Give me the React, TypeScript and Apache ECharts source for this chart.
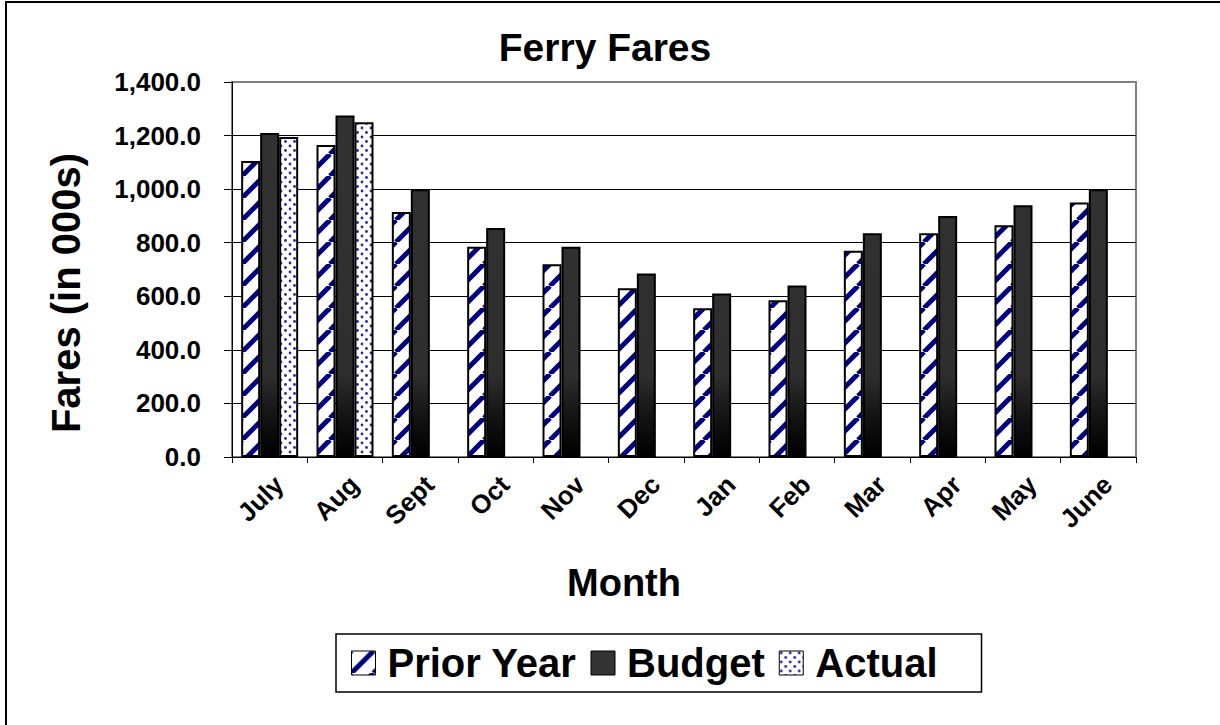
import React, { useEffect, useRef } from "react";
import * as echarts from "echarts";

const months = ["July", "Aug", "Sept", "Oct", "Nov", "Dec", "Jan", "Feb", "Mar", "Apr", "May", "June"];
const priorYear = [1105, 1165, 915, 785, 720, 630, 555, 585, 770, 835, 865, 950];
const budget = [1210, 1275, 1000, 855, 785, 685, 610, 640, 835, 900, 940, 1000];
const actual: (number | null)[] = [1195, 1250, null, null, null, null, null, null, null, null, null, null];
const yMin = 0;
const yMax = 1400;
const yInterval = 200;

const FONT = "'Liberation Sans', Arial, Helvetica, sans-serif";

function makeStripeCanvas(): HTMLCanvasElement {
  const s = 22;
  const c = document.createElement("canvas");
  c.width = s;
  c.height = s;
  const ctx = c.getContext("2d")!;
  ctx.fillStyle = "#ffffff";
  ctx.fillRect(0, 0, s, s);
  ctx.strokeStyle = "#000080";
  ctx.lineWidth = 5;
  for (let k = -1; k <= 1; k++) {
    ctx.beginPath();
    ctx.moveTo(k * s, s);
    ctx.lineTo(k * s + s, 0);
    ctx.stroke();
  }
  return c;
}

function makeDotCanvas(): HTMLCanvasElement {
  const s = 9;
  const c = document.createElement("canvas");
  c.width = s;
  c.height = s;
  const ctx = c.getContext("2d")!;
  ctx.fillStyle = "#ffffff";
  ctx.fillRect(0, 0, s, s);
  ctx.fillStyle = "#2a2a9a";
  const dots = [
    [2, 2],
    [6.5, 6.5],
  ];
  for (const [x, y] of dots) {
    ctx.beginPath();
    ctx.arc(x, y, 1.4, 0, Math.PI * 2);
    ctx.fill();
  }
  return c;
}

export default function App() {
  const ref = useRef<HTMLDivElement>(null);

  useEffect(() => {
    if (!ref.current) return;
    const chart = echarts.init(ref.current, null, { renderer: "svg" });

    const stripe = makeStripeCanvas();
    const dots = makeDotCanvas();

    const stripePattern: any = { image: stripe, repeat: "repeat", imageWidth: 22, imageHeight: 22 };
    const dotPattern: any = { image: dots, repeat: "repeat", imageWidth: 9, imageHeight: 9 };
    const budgetGradient = new echarts.graphic.LinearGradient(
      0,
      82,
      0,
      457,
      [
        { offset: 0, color: "#333333" },
        { offset: 0.78, color: "#2e2e2e" },
        { offset: 0.9, color: "#121212" },
        { offset: 1, color: "#000000" },
      ],
      true
    );

    const barCommon = {
      type: "bar",
      barGap: "0%",
      barCategoryGap: "24%",
      barWidth: 19,
    };

    chart.setOption({
      animation: false,
      backgroundColor: "#ffffff",
      textStyle: { fontFamily: FONT },
      grid: {
        left: 232,
        right: 84,
        top: 82,
        bottom: 268,
        show: true,
        borderColor: "#808080",
        borderWidth: 2,
        backgroundColor: "transparent",
      },
      legend: {
        left: 336,
        top: 634,
        orient: "horizontal",
        padding: [9, 44, 9, 15],
        borderColor: "#000",
        borderWidth: 1.5,
        itemGap: 14,
        itemWidth: 24,
        itemHeight: 24,
        icon: "rect",
        itemStyle: { borderColor: "#000", borderWidth: 1 },
        textStyle: { fontSize: 40, fontWeight: "bold", color: "#000", fontFamily: FONT, padding: [0, 0, 0, 7] },
        data: ["Prior Year", "Budget", "Actual"],
      },
      xAxis: {
        type: "category",
        data: months,
        boundaryGap: true,
        axisLine: { show: true, lineStyle: { color: "#000", width: 1 } },
        axisTick: { show: true, length: 6, lineStyle: { color: "#000", width: 1 }, alignWithLabel: false },
        axisLabel: {
          rotate: 45,
          margin: 14,
          fontSize: 26,
          fontWeight: "bold",
          color: "#000",
          fontFamily: FONT,
          interval: 0,
          verticalAlign: "top",
        },
        splitLine: { show: false },
      },
      yAxis: {
        type: "value",
        min: yMin,
        max: yMax,
        interval: yInterval,
        axisLine: { show: true, lineStyle: { color: "#000", width: 1 } },
        axisTick: { show: true, length: 8, lineStyle: { color: "#000", width: 1 } },
        axisLabel: {
          margin: 31,
          fontSize: 26,
          fontWeight: "bold",
          color: "#000",
          fontFamily: FONT,
          formatter: (v: number) =>
            v.toLocaleString("en-US", { minimumFractionDigits: 1, maximumFractionDigits: 1 }),
        },
        splitLine: { show: true, showMaxLine: false, lineStyle: { color: "#000", width: 1 } },
      },
      series: [
        {
          ...barCommon,
          name: "Prior Year",
          data: priorYear,
          itemStyle: { color: stripePattern, borderColor: "#000", borderWidth: 2 },
        },
        {
          ...barCommon,
          name: "Budget",
          data: budget,
          itemStyle: { color: budgetGradient, borderColor: "#000", borderWidth: 2 },
        },
        {
          ...barCommon,
          name: "Actual",
          data: actual,
          itemStyle: { color: dotPattern, borderColor: "#000", borderWidth: 2 },
        },
      ],
      graphic: [
        {
          type: "rect",
          silent: true,
          shape: { x: 6, y: 2, width: 1400, height: 1000 },
          style: { fill: "none", stroke: "#000", lineWidth: 2 },
          z: 100,
        },
        {
          type: "text",
          x: 605,
          y: 47,
          style: {
            text: "Ferry Fares",
            fontSize: 39,
            fontWeight: "bold",
            fontFamily: FONT,
            fill: "#000",
            textAlign: "center",
            textVerticalAlign: "middle",
          },
        },
        {
          type: "text",
          x: 624,
          y: 583,
          style: {
            text: "Month",
            fontSize: 38,
            fontWeight: "bold",
            fontFamily: FONT,
            fill: "#000",
            textAlign: "center",
            textVerticalAlign: "middle",
          },
        },
        {
          type: "text",
          x: 66,
          y: 293,
          rotation: Math.PI / 2,
          style: {
            text: "Fares (in 000s)",
            fontSize: 40,
            fontWeight: "bold",
            fontFamily: FONT,
            fill: "#000",
            textAlign: "center",
            textVerticalAlign: "middle",
          },
        },
      ],
    });

    return () => {
      chart.dispose();
    };
  }, []);

  return (
    <div
      ref={ref}
      style={{ position: "absolute", left: 0, top: 0, width: 1220, height: 725, background: "#fff" }}
    />
  );
}
